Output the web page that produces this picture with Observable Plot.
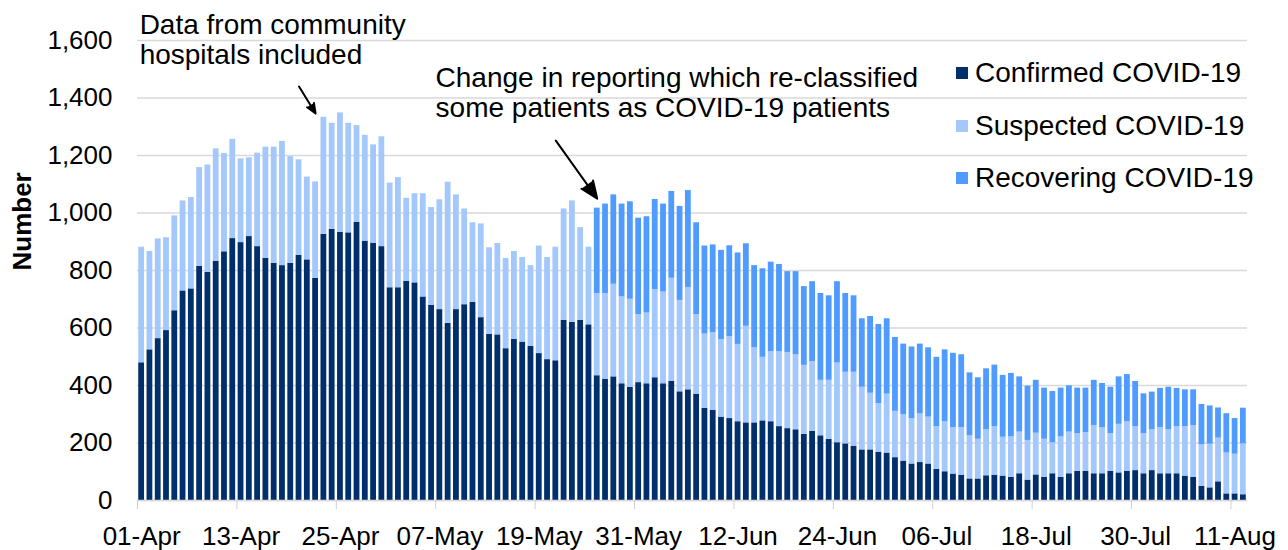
<!DOCTYPE html>
<html>
<head>
<meta charset="utf-8">
<script src="https://cdn.jsdelivr.net/npm/d3@7"></script>
<script src="https://cdn.jsdelivr.net/npm/@observablehq/plot@0.6"></script>
<style>
  body { margin: 0; background: #fff; font-family: "Liberation Sans", Arial, sans-serif; }
  #wrap { position: relative; width: 1288px; height: 550px; overflow: hidden; }
  #legend { position: absolute; left: 956px; top: 47px; font-size: 28px; color: #000; }
  .item { display: flex; align-items: center; height: 52.5px; white-space: nowrap; }
  .sw { width: 12px; height: 12px; margin-right: 7px; flex: none; }
</style>
</head>
<body>
<div id="wrap"></div>
<script>
// ---- Data ----
const firstDay = "2020-04-01";
const lastDay = "2020-08-12";
const seriesNames = ["Confirmed COVID-19", "Suspected COVID-19", "Recovering COVID-19"];
const seriesColors = ["#002f6c", "#a4c8fc", "#509bff"];
const tickLabels = ["01-Apr","13-Apr","25-Apr","07-May","19-May","31-May","12-Jun","24-Jun","06-Jul","18-Jul","30-Jul","11-Aug"];
const yTicks = [0, 200, 400, 600, 800, 1000, 1200, 1400, 1600];

const confirmed = [
  479,524,563,591,660,729,736,814,793,832,865,911,897,918,883,842,825,817,825,853,
  837,773,926,943,933,931,967,902,895,883,740,740,762,757,708,679,664,616,664,681,
  689,636,578,576,528,560,551,536,511,490,486,627,620,627,611,
  434,422,430,406,394,410,406,427,406,414,378,385,370,321,313,290,285,274,270,270,
  277,274,257,250,246,230,241,225,213,201,197,189,176,176,168,165,149,137,127,132,
  127,108,100,92,88,75,75,86,88,85,80,93,71,89,80,93,80,93,101,101,
  93,93,101,96,101,104,93,104,93,93,93,85,81,49,44,65,23,23,20
];
const suspected = [
  402,342,347,323,330,313,318,344,374,391,342,345,291,274,325,387,404,432,371,332,
  288,335,407,369,415,381,337,368,342,382,364,383,289,310,359,340,382,491,399,333,
  277,326,301,318,314,306,294,281,374,355,395,387,422,322,270,
  286,298,322,302,306,237,246,306,319,359,318,356,277,258,271,270,285,269,336,261,
  221,244,261,265,261,240,242,193,205,277,249,257,218,197,169,205,161,161,158,169,
  163,149,174,162,166,150,138,160,169,135,141,145,138,145,133,108,141,145,131,135,
  168,160,132,169,173,153,140,142,160,153,164,172,180,145,152,152,142,138,177
];
// Recovering patients were reported from 26-May onwards
const recoveringStart = "26-May";
const recovering = [
  297,311,311,323,339,335,335,314,306,302,327,337,319,306,305,310,316,318,287,286,
  308,311,303,281,289,274,278,302,294,283,274,266,238,267,275,262,257,246,249,243,
  241,241,250,258,253,219,214,212,214,215,221,192,189,184,178,178,170,161,159,155,
  157,154,161,165,164,157,138,131,137,148,133,128,124,140,133,105,137,124,124
];

const note1 = [{x: "01-Apr", y: 1700, text: "Data from community\nhospitals included"}];
const note2 = [{x: "06-May", y: 1516, text: "Change in reporting which re-classified\nsome patients as COVID-19 patients"}];
const arrows = [
  {x1: "20-Apr", y1: 1440, x2: "22-Apr", y2: 1346},
  {x1: "21-May", y1: 1252, x2: "26-May", y2: 1050}
];

// ---- Build table ----
const fmt = d3.utcFormat("%d-%b");
const days = d3.utcDay.range(new Date(firstDay), d3.utcDay.offset(new Date(lastDay), 1)).map(fmt);
const recStartIdx = days.indexOf(recoveringStart);
const rows = [];
days.forEach((d, i) => {
  rows.push({date: d, series: seriesNames[0], value: confirmed[i]});
  rows.push({date: d, series: seriesNames[1], value: suspected[i]});
  if (i >= recStartIdx) rows.push({date: d, series: seriesNames[2], value: recovering[i - recStartIdx]});
});

// ---- Chart ----
const W = 1288, H = 550, mL = 137, mR = 41, mT = 40, mB = 50;
const step = (W - mL - mR) / days.length;
const noteStyle = {x: "x", y: "y", text: "text", textAnchor: "start", lineAnchor: "top", lineHeight: 1.1, fontSize: 28};

const chart = Plot.plot({
  width: W, height: H,
  marginLeft: mL, marginRight: mR, marginTop: mT, marginBottom: mB,
  style: {fontFamily: "'Liberation Sans', Arial, sans-serif", fontSize: "26px", color: "#000", background: "#fff", overflow: "visible"},
  x: {type: "band", domain: days, paddingInner: 0.3, paddingOuter: 0.15, axis: null},
  y: {domain: [0, 1600], axis: null},
  color: {domain: seriesNames, range: seriesColors},
  marks: [
    Plot.gridY(yTicks, {stroke: "#d9d9d9", strokeOpacity: 1, strokeWidth: 1.5}),
    Plot.barY(rows, {x: "date", y: "value", fill: "series", order: seriesNames}),
    Plot.ruleY([0], {stroke: "#d9d9d9", strokeWidth: 1.5}),
    Plot.axisY(yTicks, {tickSize: 0, tickPadding: 25, tickFormat: d3.format(","), fontSize: 26, label: null}),
    Plot.axisX(tickLabels, {tickSize: 0, tickPadding: 26, fontSize: 26, label: null}),
    Plot.axisX(tickLabels, {tickSize: 9, tickFormat: () => "", dx: -step / 2, stroke: "#d0d0d0", label: null}),
    Plot.text(["Number"], {frameAnchor: "left", text: d => d, dx: -115, rotate: -90, fontWeight: "bold", fontSize: 26}),
    Plot.text(note1, {...noteStyle, dx: -2}),
    Plot.text(note2, {...noteStyle, dx: 4}),
    Plot.arrow(arrows, {x1: "x1", y1: "y1", x2: "x2", y2: "y2", stroke: "#000", fill: "#000", strokeWidth: 2, strokeLinejoin: "miter", headLength: 14, headAngle: 45})
  ]
});
document.getElementById("wrap").appendChild(chart);

// ---- Legend ----
const legend = document.createElement("div");
legend.id = "legend";
seriesNames.forEach((n, i) => {
  const it = document.createElement("div");
  it.className = "item";
  const sw = document.createElement("span");
  sw.className = "sw";
  sw.style.background = seriesColors[i];
  const tx = document.createElement("span");
  tx.textContent = n;
  it.appendChild(sw); it.appendChild(tx);
  legend.appendChild(it);
});
document.getElementById("wrap").appendChild(legend);
</script>
</body>
</html>
